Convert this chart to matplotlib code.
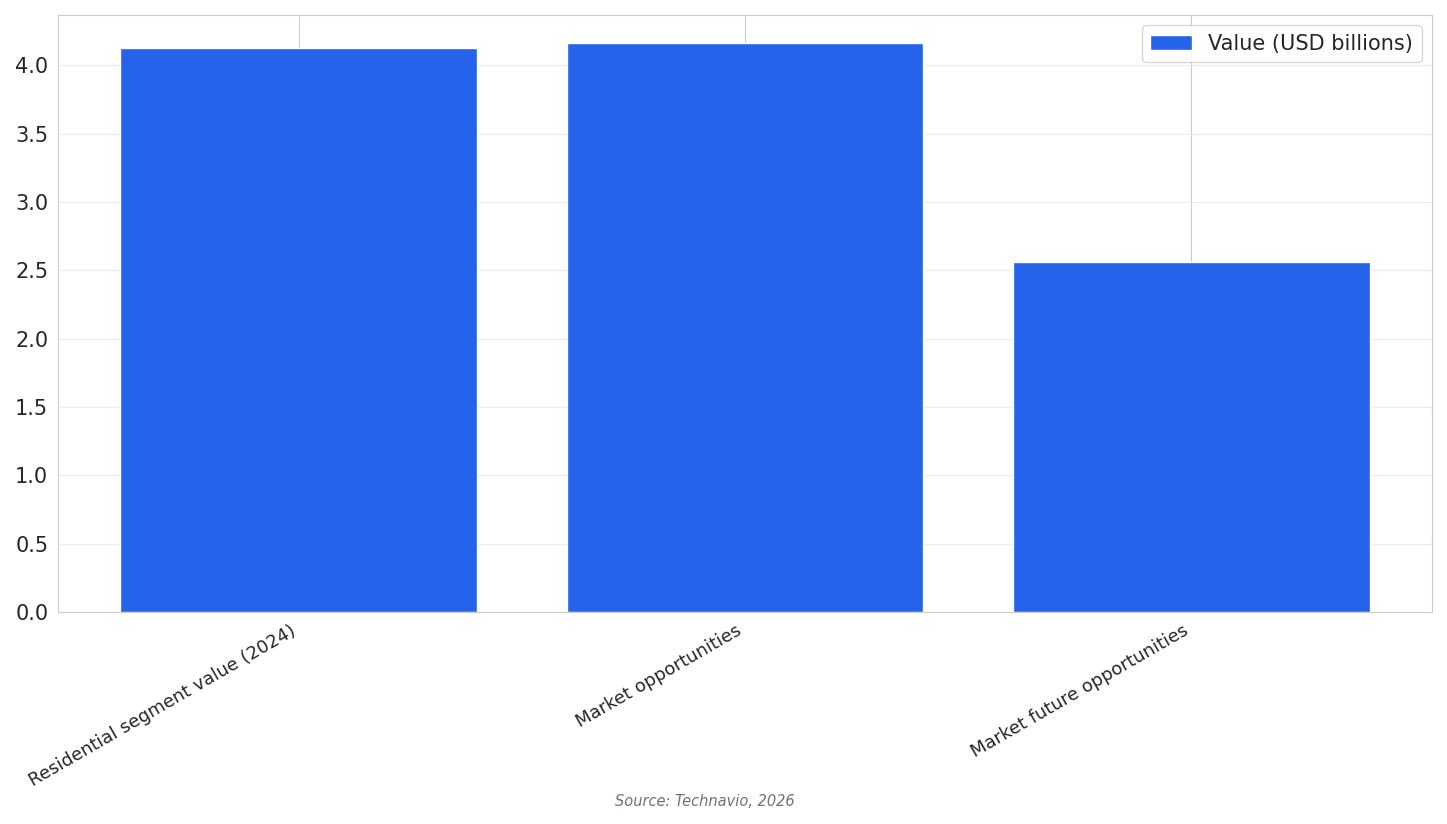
import matplotlib
matplotlib.use("Agg")
import matplotlib.pyplot as plt
import seaborn as sns

categories = ["Residential segment value (2024)", "Market opportunities", "Market future opportunities"]
values = [4.13, 4.16, 2.56]

sns.set_style("whitegrid")
plt.rcParams['font.family'] = ['DejaVu Sans']
fig = plt.figure(figsize=(14.47, 8.24), dpi=100)
ax = fig.add_axes([58/1447, 1-612/824, (1432-58)/1447, (612-15)/824])
ax.bar(categories, values, color="#2563EB", width=0.8, label="Value (USD billions)")
ax.grid(axis='y', color='#ebebeb')
ax.grid(axis='x', color='#cccccc')
for s in ax.spines.values():
    s.set_color('#cccccc')
ax.set_yticks([0, 0.5, 1, 1.5, 2, 2.5, 3, 3.5, 4])
ax.tick_params(axis='y', labelsize=15)
plt.setp(ax.get_xticklabels(), rotation=30, ha='right', fontsize=13)
ax.legend(loc='upper right', fontsize=15)
fig.text(705/1447, 1-801/824, "Source: Technavio, 2026", ha='center', va='center',
         fontsize=10.5, style='italic', color='#6b7280')
fig.savefig("out.png", dpi=100)
